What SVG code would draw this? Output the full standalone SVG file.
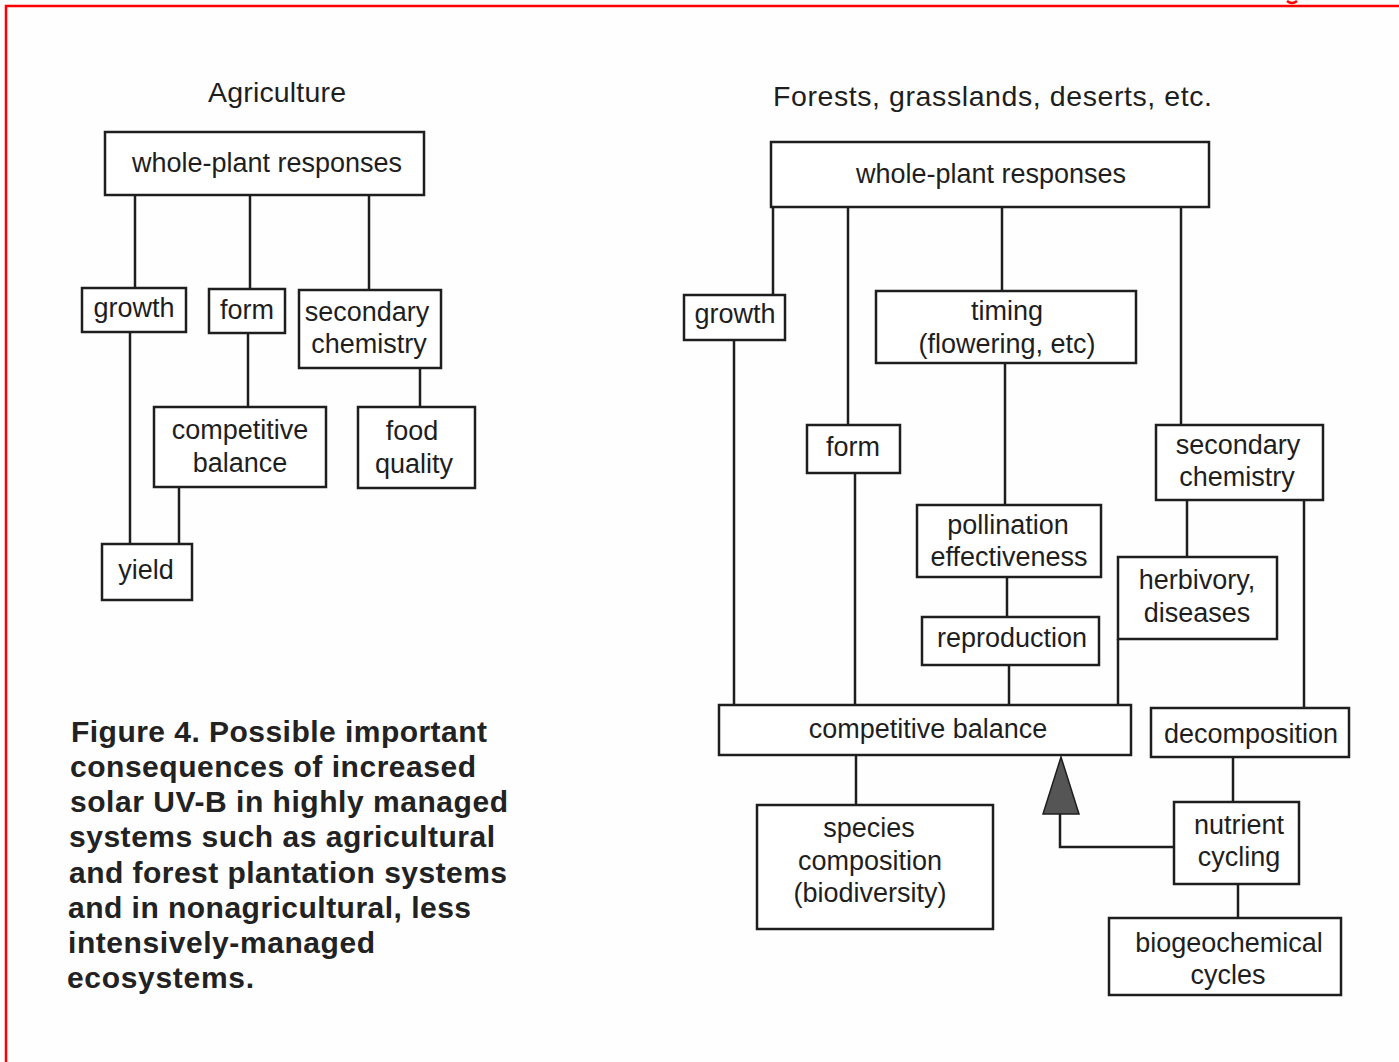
<svg xmlns="http://www.w3.org/2000/svg" width="1399" height="1062" viewBox="0 0 1399 1062">
<style>
  .box { fill: #ffffff; stroke: #1e1e1e; stroke-width: 2.5; }
  .lbl { font-family: "Liberation Sans", Arial, sans-serif; font-size: 27px; fill: #1e1e1e; text-anchor: middle; }
  .title { font-family: "Liberation Sans", Arial, sans-serif; font-size: 28.5px; fill: #1e1e1e; }
  .cap { font-family: "Liberation Sans", Arial, sans-serif; font-size: 30px; font-weight: bold; fill: #222222; }
  .ln { fill: none; stroke: #1e1e1e; stroke-width: 2.5; }
  .frame { fill: none; stroke: #ff0000; stroke-width: 2.5; }
</style>
<rect x="0" y="0" width="1399" height="1062" fill="#fefefe"/>
<path class="frame" d="M6,1062 L6,6 L1399,6"/>
<path d="M1287,1 Q1292,5 1297,1" fill="none" stroke="#ff0000" stroke-width="2.5"/>

<text class="title" x="208" y="102" textLength="138" lengthAdjust="spacing">Agriculture</text>
<text class="title" x="773" y="106" textLength="439" lengthAdjust="spacing">Forests, grasslands, deserts, etc.</text>

<g id="connectors">
  <!-- left -->
  <path class="ln" d="M135,195 V288"/>
  <path class="ln" d="M250,195 V289"/>
  <path class="ln" d="M369,196 V290"/>
  <path class="ln" d="M130,332 V544"/>
  <path class="ln" d="M248,333 V407"/>
  <path class="ln" d="M420,368 V407"/>
  <path class="ln" d="M179,487 V544"/>
  <!-- right -->
  <path class="ln" d="M773,207 V295"/>
  <path class="ln" d="M848,207 V425"/>
  <path class="ln" d="M1002,207 V291"/>
  <path class="ln" d="M1181,207 V425"/>
  <path class="ln" d="M734,340 V705"/>
  <path class="ln" d="M855,473 V705"/>
  <path class="ln" d="M1005,363 V505"/>
  <path class="ln" d="M1007,577 V617"/>
  <path class="ln" d="M1009,665 V705"/>
  <path class="ln" d="M1187,500 V557"/>
  <path class="ln" d="M1118,639 V705"/>
  <path class="ln" d="M1304,500 V708"/>
  <path class="ln" d="M856,755 V805"/>
  <path class="ln" d="M1233,757 V802"/>
  <path class="ln" d="M1238,884 V918"/>
  <path class="ln" d="M1174,847 H1060 V812"/>
  <polygon points="1061,757 1043,814 1079,814" fill="#555555" stroke="#1e1e1e" stroke-width="1.5"/>
</g>

<!-- Left diagram nodes -->
<g id="agr-whole-plant">
  <rect class="box" x="105" y="132" width="319" height="63"/>
  <text class="lbl" x="267" y="172">whole-plant responses</text>
</g>
<g id="agr-growth">
  <rect class="box" x="82" y="288" width="104" height="44"/>
  <text class="lbl" x="134" y="317">growth</text>
</g>
<g id="agr-form">
  <rect class="box" x="209" y="289" width="76" height="44"/>
  <text class="lbl" x="247" y="319">form</text>
</g>
<g id="agr-secondary">
  <rect class="box" x="299" y="290" width="142" height="78"/>
  <text class="lbl" x="367" y="321">secondary</text>
  <text class="lbl" x="369" y="353">chemistry</text>
</g>
<g id="agr-competitive">
  <rect class="box" x="154" y="407" width="172" height="80"/>
  <text class="lbl" x="240" y="439">competitive</text>
  <text class="lbl" x="240" y="472">balance</text>
</g>
<g id="agr-food">
  <rect class="box" x="358" y="407" width="117" height="81"/>
  <text class="lbl" x="412" y="440">food</text>
  <text class="lbl" x="414" y="473">quality</text>
</g>
<g id="agr-yield">
  <rect class="box" x="102" y="544" width="90" height="56"/>
  <text class="lbl" x="146" y="579">yield</text>
</g>

<!-- Right diagram nodes -->
<g id="nat-whole-plant">
  <rect class="box" x="771" y="142" width="438" height="65"/>
  <text class="lbl" x="991" y="183">whole-plant responses</text>
</g>
<g id="nat-growth">
  <rect class="box" x="684" y="295" width="101" height="45"/>
  <text class="lbl" x="735" y="323">growth</text>
</g>
<g id="nat-timing">
  <rect class="box" x="876" y="291" width="260" height="72"/>
  <text class="lbl" x="1007" y="320">timing</text>
  <text class="lbl" x="1007" y="353">(flowering, etc)</text>
</g>
<g id="nat-form">
  <rect class="box" x="807" y="425" width="93" height="48"/>
  <text class="lbl" x="853" y="456">form</text>
</g>
<g id="nat-secondary">
  <rect class="box" x="1156" y="425" width="167" height="75"/>
  <text class="lbl" x="1238" y="454">secondary</text>
  <text class="lbl" x="1237" y="486">chemistry</text>
</g>
<g id="nat-pollination">
  <rect class="box" x="917" y="505" width="184" height="72"/>
  <text class="lbl" x="1008" y="534">pollination</text>
  <text class="lbl" x="1009" y="566">effectiveness</text>
</g>
<g id="nat-herbivory">
  <rect class="box" x="1118" y="557" width="159" height="82"/>
  <text class="lbl" x="1197" y="589">herbivory,</text>
  <text class="lbl" x="1197" y="622">diseases</text>
</g>
<g id="nat-reproduction">
  <rect class="box" x="922" y="617" width="177" height="48"/>
  <text class="lbl" x="1012" y="647">reproduction</text>
</g>
<g id="nat-competitive">
  <rect class="box" x="719" y="705" width="412" height="50"/>
  <text class="lbl" x="928" y="738">competitive balance</text>
</g>
<g id="nat-decomposition">
  <rect class="box" x="1151" y="708" width="198" height="49"/>
  <text class="lbl" x="1251" y="743">decomposition</text>
</g>
<g id="nat-species">
  <rect class="box" x="757" y="805" width="236" height="124"/>
  <text class="lbl" x="869" y="837">species</text>
  <text class="lbl" x="870" y="870">composition</text>
  <text class="lbl" x="870" y="902">(biodiversity)</text>
</g>
<g id="nat-nutrient">
  <rect class="box" x="1174" y="802" width="125" height="82"/>
  <text class="lbl" x="1239" y="834">nutrient</text>
  <text class="lbl" x="1239" y="866">cycling</text>
</g>
<g id="nat-biogeochemical">
  <rect class="box" x="1109" y="918" width="232" height="77"/>
  <text class="lbl" x="1229" y="952">biogeochemical</text>
  <text class="lbl" x="1228" y="984">cycles</text>
</g>

<g id="caption">
  <text class="cap" x="71" y="742" textLength="416" lengthAdjust="spacing">Figure 4. Possible important</text>
  <text class="cap" x="70" y="777" textLength="406" lengthAdjust="spacing">consequences of increased</text>
  <text class="cap" x="70" y="812" textLength="438" lengthAdjust="spacing">solar UV-B in highly managed</text>
  <text class="cap" x="69" y="847" textLength="426" lengthAdjust="spacing">systems such as agricultural</text>
  <text class="cap" x="69" y="883" textLength="438" lengthAdjust="spacing">and forest plantation systems</text>
  <text class="cap" x="68" y="918" textLength="403" lengthAdjust="spacing">and in nonagricultural, less</text>
  <text class="cap" x="68" y="953" textLength="307" lengthAdjust="spacing">intensively-managed</text>
  <text class="cap" x="67" y="988" textLength="187" lengthAdjust="spacing">ecosystems.</text>
</g>
</svg>
